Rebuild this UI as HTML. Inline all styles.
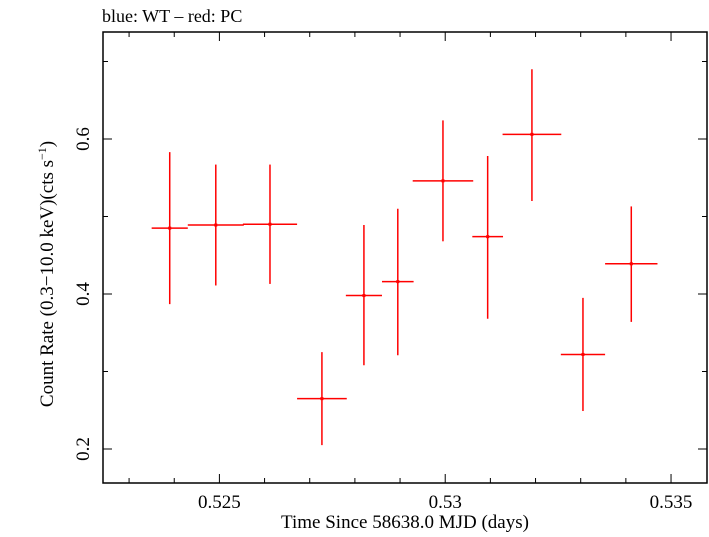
<!DOCTYPE html>
<html><head><meta charset="utf-8"><style>
body{margin:0;background:#fff;}
svg text{font-family:"Liberation Serif",serif;fill:#000;}
</style></head><body>
<svg id="c" width="709" height="532" xmlns="http://www.w3.org/2000/svg"></svg>
<script>
const times=[0.52390,0.52492,0.52612,0.52727,0.52820,0.52895,0.52995,0.53094,0.53192,0.53305,0.53412];
const timeErr=[0.00040,0.00062,0.00060,0.00055,0.00040,0.00035,0.00067,0.00034,0.00065,0.00049,0.00058];
const rates=[0.485,0.489,0.490,0.265,0.398,0.416,0.546,0.474,0.606,0.322,0.439];
const rateLo=[0.387,0.411,0.413,0.205,0.308,0.321,0.468,0.368,0.520,0.249,0.364];
const rateHi=[0.583,0.567,0.567,0.325,0.489,0.510,0.624,0.578,0.690,0.395,0.513];
const xTickVals=[0.525,0.53,0.535];
const xTickLabels=["0.525","0.53","0.535"];
const yTickVals=[0.2,0.4,0.6];
const yTickLabels=["0.2","0.4","0.6"];
const L=103,R=707,T=32,B=483;
const x0=0.525-(219.5-L)/226*0.005,x1=0.535+(R-671)/226*0.005;
const y0=0.2-(B-449)/775,y1=0.6+(139-T)/775;
const X=v=>L+(v-x0)/(x1-x0)*(R-L);
const Y=v=>B-(v-y0)/(y1-y0)*(B-T);
const svg=document.getElementById('c');
const NS="http://www.w3.org/2000/svg";
function add(tag,attrs,name,text){const e=document.createElementNS(NS,tag);for(const k in attrs)e.setAttribute(k,attrs[k]);


if(text!==undefined)e.textContent=text;svg.appendChild(e);return e;}
add('rect',{x:L,y:T,width:R-L,height:B-T,fill:'none',stroke:'#000','stroke-width':1.5},'plot-frame');
for(let i=0;i<=16;i++){const v=0.522+i*0.001;if(v<x0||v>x1)continue;const px=X(v);const major=xTickVals.some(t=>Math.abs(t-v)<1e-7);const len=major?9:5;
add('line',{x1:px,y1:B,x2:px,y2:B-len,stroke:'#000'},'x-tick');
add('line',{x1:px,y1:T,x2:px,y2:T+len,stroke:'#000'},'x-tick-top');}
xTickVals.forEach((v,i)=>add('text',{x:X(v),y:508,'font-size':19,'text-anchor':'middle'},'x-tick-label',xTickLabels[i]));
for(let i=1;i<=7;i++){const v=i*0.1;if(v<y0||v>y1)continue;const py=Y(v);const major=yTickVals.some(t=>Math.abs(t-v)<1e-7);const len=major?9:5;
add('line',{x1:L,y1:py,x2:L+len,y2:py,stroke:'#000'},'y-tick');
add('line',{x1:R,y1:py,x2:R-len,y2:py,stroke:'#000'},'y-tick-right');}
yTickVals.forEach((v,i)=>add('text',{x:0,y:0,'font-size':19,'text-anchor':'middle',transform:`translate(89,${Y(v)}) rotate(-90)`},'y-tick-label',yTickLabels[i]));
add('text',{x:405,y:528,'font-size':19,'text-anchor':'middle'},'x-axis-title','Time Since 58638.0 MJD (days)');
const yt=add('text',{x:0,y:0,'font-size':19,'text-anchor':'middle',transform:`translate(53,274) rotate(-90)`},'y-axis-title','Count Rate (0.3\u221210.0 keV)(cts s');
const ts=document.createElementNS(NS,'tspan');ts.setAttribute('dy','-7');ts.setAttribute('font-size','12');ts.textContent='\u22121';yt.appendChild(ts);
const ts2=document.createElementNS(NS,'tspan');ts2.setAttribute('dy','7');ts2.textContent=')';yt.appendChild(ts2);
add('text',{x:102,y:22,'font-size':18},'chart-title','blue: WT \u2013 red: PC');
times.forEach((t,i)=>{
add('line',{x1:X(t-timeErr[i]),x2:X(t+timeErr[i]),y1:Y(rates[i]),y2:Y(rates[i]),stroke:'#f00','stroke-width':1.5},'x-error-bar');
add('line',{x1:X(t),x2:X(t),y1:Y(rateLo[i]),y2:Y(rateHi[i]),stroke:'#f00','stroke-width':1.5},'y-error-bar');
add('rect',{x:X(t)-1.5,y:Y(rates[i])-1.5,width:3,height:3,fill:'#f00'},'data-point');
});
</script>
</body></html>
